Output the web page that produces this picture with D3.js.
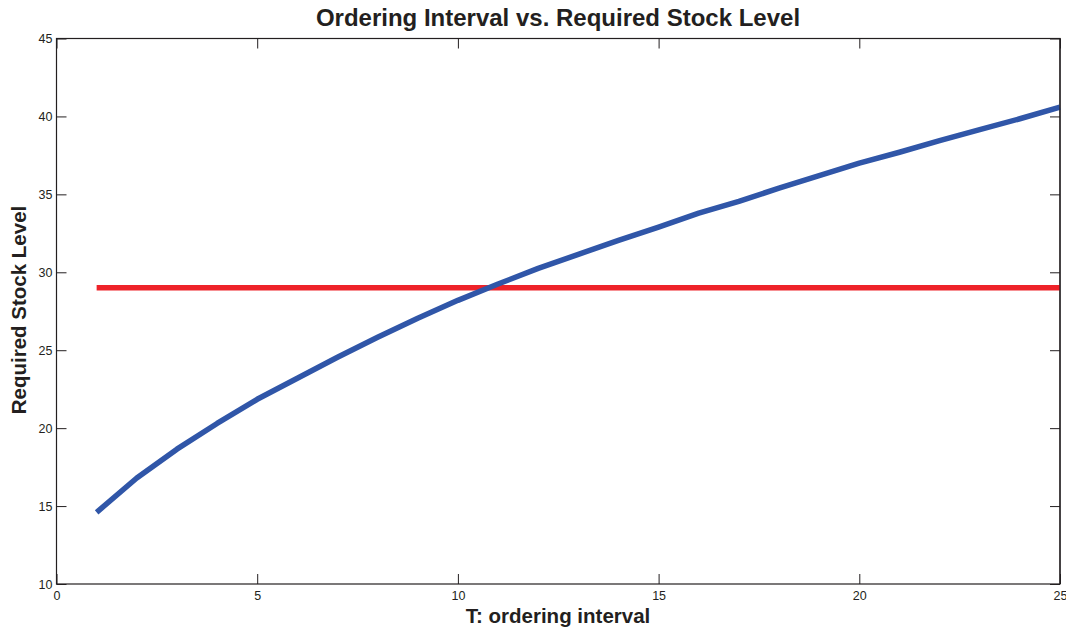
<!DOCTYPE html>
<html>
<head>
<meta charset="utf-8">
<script src="https://cdn.jsdelivr.net/npm/d3@7"></script>
<style>
  body { margin: 0; background: #fff; }
  svg { display: block; font-family: "Liberation Sans", Arial, Helvetica, sans-serif; }
</style>
</head>
<body>
<svg id="chart" width="1066" height="630"></svg>
<script>
const intervals = [1,2,3,4,5,6,7,8,9,10,11,12,13,14,15,16,17,18,19,20,21,22,23,24,25];
const stockLevel = [14.6,16.8,18.65,20.3,21.85,23.2,24.55,25.83,27.05,28.2,29.25,30.25,31.15,32.05,32.9,33.8,34.55,35.4,36.2,37.0,37.7,38.45,39.15,39.85,40.6];
const thresholdX = [1, 25];
const thresholdY = [29, 29];
const xTicks = [0,5,10,15,20,25];
const yTicks = [10,15,20,25,30,35,40,45];

const svg = d3.select("#chart");
const m = {left: 56.5, right: 1060, top: 38.5, bottom: 584};
const x = d3.scaleLinear().domain([0,25]).range([m.left, m.right]);
const y = d3.scaleLinear().domain([10,45]).range([m.bottom, m.top]);

const tickLen = 10;
const axisColor = "#231f20";

// Box
svg.append("rect")
  .attr("x", m.left).attr("y", m.top)
  .attr("width", m.right - m.left).attr("height", m.bottom - m.top)
  .attr("fill", "none").attr("stroke", axisColor).attr("stroke-width", 1.2);

// Axes with inward ticks
const xb = svg.append("g").attr("transform", `translate(0,${m.bottom})`)
  .call(d3.axisBottom(x).tickValues(xTicks).tickSize(-tickLen).tickPadding(5).tickFormat(d3.format("d")));
const xt = svg.append("g").attr("transform", `translate(0,${m.top})`)
  .call(d3.axisTop(x).tickValues(xTicks).tickSize(-tickLen).tickFormat(""));
const yl = svg.append("g").attr("transform", `translate(${m.left},0)`)
  .call(d3.axisLeft(y).tickValues(yTicks).tickSize(-tickLen).tickPadding(4).tickFormat(d3.format("d")));
const yr = svg.append("g").attr("transform", `translate(${m.right},0)`)
  .call(d3.axisRight(y).tickValues(yTicks).tickSize(-tickLen).tickFormat(""));

[xb, xt, yl, yr].forEach(g => {
  g.select(".domain").remove();
  g.selectAll(".tick line").attr("stroke", axisColor).attr("stroke-width", 1);
  g.selectAll(".tick text").attr("fill", axisColor).style("font-size", "12.5px");
});
xb.selectAll(".tick text").attr("dy", "0.85em");

// Lines
const line = d3.line().x(d => x(d[0])).y(d => y(d[1]));
svg.append("path")
  .datum(thresholdX.map((v,i) => [v, thresholdY[i]]))
  .attr("d", line).attr("fill", "none")
  .attr("stroke", "#ee2229").attr("stroke-width", 5.5);
svg.append("path")
  .datum(intervals.map((v,i) => [v, stockLevel[i]]))
  .attr("d", line).attr("fill", "none")
  .attr("stroke", "#3056a8").attr("stroke-width", 5.5).attr("stroke-linejoin", "round");

// Redraw right border over line
svg.append("line").attr("x1", m.right).attr("x2", m.right).attr("y1", m.top).attr("y2", m.bottom)
  .attr("stroke", axisColor).attr("stroke-width", 1.2);

// Title and labels
svg.append("text").attr("x", 558).attr("y", 26).attr("text-anchor", "middle")
  .style("font-size", "24px").style("font-weight", "bold").attr("fill", axisColor)
  .text("Ordering Interval vs. Required Stock Level");
svg.append("text").attr("x", 558).attr("y", 623).attr("text-anchor", "middle")
  .style("font-size", "20.5px").style("font-weight", "bold").attr("fill", axisColor)
  .text("T: ordering interval");
svg.append("text").attr("transform", "translate(26,310) rotate(-90)").attr("text-anchor", "middle")
  .style("font-size", "20.5px").style("font-weight", "bold").attr("fill", axisColor)
  .text("Required Stock Level");
</script>
</body>
</html>
